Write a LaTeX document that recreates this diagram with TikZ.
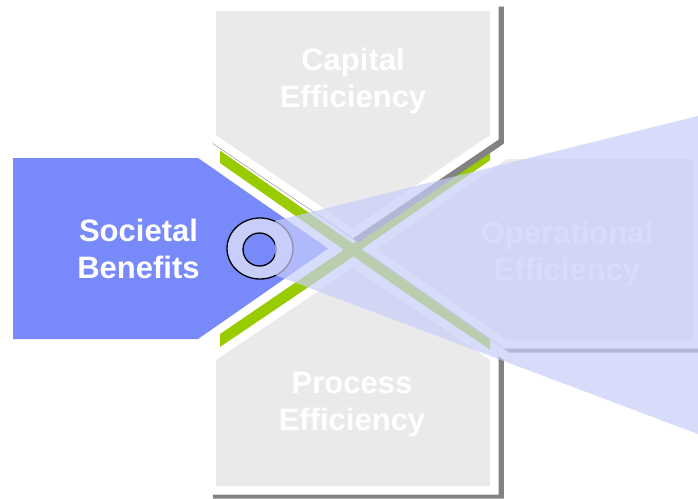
\documentclass[tikz,border=0pt]{standalone}
\usepackage{fontspec}
\setmainfont{Liberation Sans}
\definecolor{boxgray}{RGB}{234,234,234}
\definecolor{shadowc}{RGB}{130,130,130}
\definecolor{sbblue}{RGB}{120,137,250}
\definecolor{xgreen}{RGB}{153,204,0}
\definecolor{beamc}{RGB}{200,206,250}
\definecolor{ringc}{RGB}{200,206,250}
\newcommand\shadowedshape[1]{%
  \path[fill=shadowc, draw=shadowc, line width=17pt, line join=miter, shift={(5.25,4.2)}] #1;
  \path[fill=white, draw=white, line width=17pt, line join=miter] #1;
  \path[fill=boxgray] #1;}
\begin{document}
\begin{tikzpicture}[x=1pt,y=-1pt,
  lbl/.style={text=white, font=\fontsize{31}{36.5}\selectfont\bfseries, align=center, inner sep=0pt},
  ringline/.style={draw=black, line width=1.3pt}]
\useasboundingbox (0,0) rectangle (698,498);
\clip (0,0) rectangle (698,498);
\fill[white] (0,0) rectangle (698,498);
% green X
\fill[xgreen] (220,150.5) -- (490,339.5) -- (490,352) -- (220,163) -- cycle;
\fill[xgreen] (220,334) -- (490,150) -- (490,163) -- (220,347.5) -- cycle;
% gray chevrons with white border and shadow
\shadowedshape{(216,11) -- (490,11) -- (490,135) -- (353,228) -- (216,135) -- cycle}
\shadowedshape{(216,360) -- (353,268) -- (490,360) -- (490,486) -- (216,486) -- cycle}
\shadowedshape{(377,249) -- (507,159) -- (693,159) -- (693,340) -- (507,340) -- cycle}
% blue chevron
\fill[sbblue] (13,158) -- (198,158) -- (328,248.5) -- (198,339) -- (13,339) -- cycle;
% labels (base anchor = baseline of the last line)
\node[lbl, anchor=base] (cap) at (353,107) {Capital\\Efficiency};
\node[lbl, anchor=base] (pro) at (352,430) {Process\\Efficiency};
\node[lbl, anchor=base] (soc) at (138.5,278) {Societal\\Benefits};
\node[lbl, anchor=base] (ope) at (567,280) {Operational\\Efficiency};
% ring
\path[ringline, fill=ringc] (260,248.5) ellipse [x radius=33, y radius=30.5];
\path[ringline, fill=sbblue] (259.5,249.5) circle [radius=16.5];
% translucent beam
\fill[beamc, fill opacity=0.7] (275,221) -- (698,116) -- (698,434) -- (275,275) -- cycle;
\end{tikzpicture}
\end{document}
